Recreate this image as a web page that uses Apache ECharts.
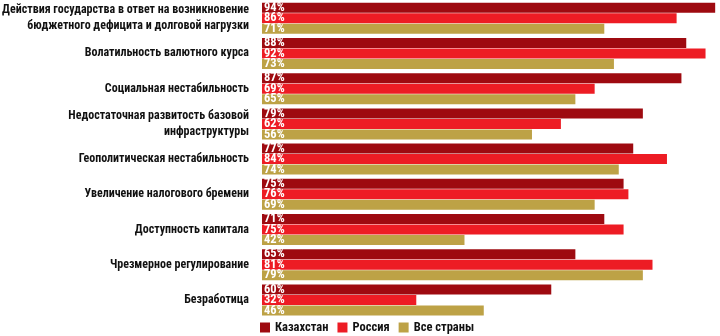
<!DOCTYPE html>
<html>
<head>
<meta charset="utf-8">
<style>
  html, body { margin: 0; padding: 0; background: #fff; }
  #chart { width: 720px; height: 336px; }
</style>
<script src="https://cdn.jsdelivr.net/npm/echarts@6/dist/echarts.min.js"></script>
</head>
<body>
<div id="chart"></div>
<script>
// Risk factors, top to bottom
const categories = [
  'Действия государства в ответ на возникновение\nбюджетного дефицита и долговой нагрузки',
  'Волатильность валютного курса',
  'Социальная нестабильность',
  'Недостаточная развитость базовой\nинфраструктуры',
  'Геополитическая нестабильность',
  'Увеличение налогового бремени',
  'Доступность капитала',
  'Чрезмерное регулирование',
  'Безработица'
];

// Share of respondents, %
const kazakhstan = [94, 88, 87, 79, 77, 75, 71, 65, 60];
const russia     = [86, 92, 69, 62, 84, 76, 75, 81, 32];
const allCountries = [71, 73, 65, 56, 74, 69, 42, 79, 46];

const seriesNames = ['Казахстан', 'Россия', 'Все страны'];
const colors = ['#9e0a10', '#ed1c24', '#bda246'];

const FONT = '"Liberation Sans Narrow", "Roboto Condensed", "DejaVu Sans Condensed", sans-serif';

const chart = echarts.init(document.getElementById('chart'), null, { renderer: 'canvas' });

function makeSeries(name, data, color) {
  return {
    name: name,
    type: 'bar',
    data: data,
    barWidth: 10,
    barGap: '5%',
    itemStyle: { color: color },
    label: {
      show: true,
      position: 'insideLeft',
      distance: 2,
      formatter: '{c}%',
      color: '#fff',
      fontFamily: FONT,
      fontWeight: 'bold',
      fontSize: 12.5
    },
    emphasis: { disabled: true }
  };
}

chart.setOption({
  animation: false,
  grid: { left: 262, right: 0, top: 0.6, height: 317, outerBoundsMode: 'none', containLabel: false },
  legend: {
    data: seriesNames,
    left: 255,
    top: 316,
    itemWidth: 10,
    itemHeight: 10,
    itemGap: 9,
    icon: 'rect',
    textStyle: { fontFamily: FONT, fontWeight: 'bold', fontSize: 12.5, color: '#111' }
  },
  xAxis: {
    type: 'value',
    min: 0,
    max: 95,
    show: false
  },
  yAxis: {
    type: 'category',
    data: categories,
    inverse: true,
    axisLine: { show: false },
    axisTick: { show: false },
    axisLabel: {
      margin: 13,
      color: '#111',
      fontFamily: FONT,
      fontWeight: 'bold',
      fontSize: 12,
      lineHeight: 16,
      align: 'right'
    }
  },
  series: [
    makeSeries(seriesNames[0], kazakhstan, colors[0]),
    makeSeries(seriesNames[1], russia, colors[1]),
    makeSeries(seriesNames[2], allCountries, colors[2])
  ]
});
</script>
</body>
</html>
